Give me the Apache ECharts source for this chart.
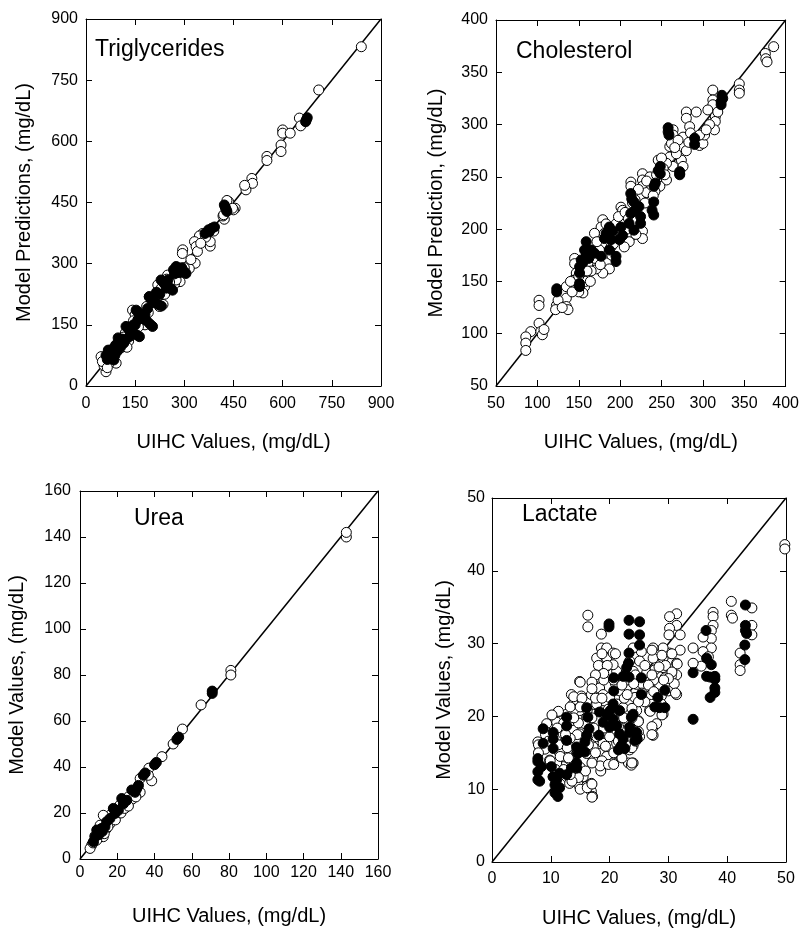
<!DOCTYPE html>
<html>
<head>
<meta charset="utf-8">
<script src="https://cdn.jsdelivr.net/npm/echarts@6/dist/echarts.min.js"></script>
<style>
html,body{margin:0;padding:0;background:#fff;}
#chart{width:802px;height:929px;}
</style>
</head>
<body>
<div id="chart"></div>
<script>
// ---------------- DATA ----------------
const panelTitles = ['Triglycerides', 'Cholesterol', 'Urea', 'Lactate'];
const xAxisNames = ['UIHC Values, (mg/dL)', 'UIHC Values, (mg/dL)', 'UIHC Values, (mg/dL)', 'UIHC Values, (mg/dL)'];
const yAxisNames = ['Model Predictions, (mg/dL)', 'Model Prediction, (mg/dL)', 'Model Values, (mg/dL)', 'Model Values, (mg/dL)'];
const axisMin = [0, 50, 0, 0];
const axisMax = [900, 400, 160, 50];
const axisStep = [150, 50, 20, 10];

const trigOpen = [[840,832],[710,726],[651,657],[655,638],[600,628],[600,620],[623,620],[595,591],[595,575],[552,563],[552,553],[506,509],[508,497],[488,481],[484,492],[435,452],[455,436],[450,432],[422,409],[418,417],[447,436],[379,343],[379,354],[356,374],[346,368],[331,354],[336,342],[322,301],[316,293],[333,301],[295,334],[294,325],[287,256],[310,293],[315,288],[249,272],[246,262],[219,248],[224,195],[235,200],[193,219],[200,212],[142,186],[150,175],[170,160],[180,150],[135,140],[120,130],[110,95],[100,90],[85,80],[75,60],[46,72],[61,35],[92,56],[70,55],[55,50],[130,110],[160,145],[205,205],[260,240],[270,250],[300,290],[340,330],[365,365],[390,380],[420,420],[430,455],[275,260],[115,120],[145,160],[190,180],[240,225],[255,255],[170,175],[50,60],[65,45],[80,70],[125,95],[185,195],[215,215],[230,240],[320,310],[350,350]];
const trigFill = [[672,652],[675,658],[670,648],[422,444],[428,432],[425,438],[430,428],[376,378],[384,387],[392,390],[374,383],[363,374],[280,290],[290,283],[275,293],[300,280],[305,276],[285,278],[267,285],[229,260],[240,250],[250,245],[260,238],[264,235],[235,255],[193,219],[200,210],[210,205],[220,200],[230,196],[205,215],[153,186],[165,175],[175,165],[185,160],[195,152],[203,146],[160,180],[122,146],[135,135],[145,130],[155,125],[163,121],[130,140],[61,75],[70,80],[80,90],[90,100],[100,110],[110,115],[120,112],[132,121],[75,70],[85,64],[95,85],[105,95],[65,65],[115,105],[180,175],[170,168],[140,145],[150,150],[250,260],[215,230],[68,88],[78,78],[88,75],[98,118],[108,104],[145,150],[158,162],[188,190],[225,225],[245,240],[270,275],[292,290]];

const cholOpen = [[385.5,374.5],[375.5,368],[376,363],[377.5,360],[344,339],[344,333],[344,330],[312,333],[312,323.5],[312,319],[315,307.5],[315,303],[314,295],[306,314],[280,312],[280,306],[292,312],[284,298],[276,288],[264,295],[264,290],[288,285],[296,280],[300,282],[302,290],[308,300],[260,279],[260,269],[264,260],[274,266],[276,260],[272,253],[256,263],[246,266],[256,247],[248,241],[252,258],[268,272],[280,275],[285,292],[227,253],[227,247],[227,241],[213,245],[213,241],[201,221],[203,218],[217,212],[227,198],[227,191],[213,193],[211,188],[205,183],[179,209],[177,202],[169,196],[181,196],[189,183],[185,177],[187,162],[179,158],[171,162],[167,170],[161,167],[145,172],[145,167],[147,158],[143,151],[151,145],[157,145],[155,139],[135,145],[135,134],[135,126],[137,123],[123,127],[125,132],[122,123],[102,132],[102,127],[102,110],[104,102],[92,102],[86,97],[86,91],[86,84],[106,99],[108,104],[195,205],[198,212],[206,216],[218,228],[232,235],[238,242],[242,236],[190,175],[175,180],[165,160],[158,150],[160,178],[172,188],[183,205],[215,225],[222,238],[236,250],[244,252],[250,268],[262,282],[270,285],[292,288],[296,290],[160,160],[150,140],[140,150],[130,125],[150,155],[185,195],[200,200],[210,210],[220,208],[230,225],[170,172],[176,166],[192,186],[197,196],[208,200],[219,195],[232,246],[240,232],[254,252],[266,278],[283,283],[304,295],[318,312],[164,150],[142,140]];
const cholFill = [[323,328],[322,322],[324,325],[322,319],[258,297],[258,293],[259,290],[290,287],[290,281],[272,255],[272,252],[248.5,260],[248.5,253],[246,256],[242.5,244],[241,241],[240.6,226],[238.6,218],[240.6,213.5],[212.8,234],[216.7,226],[222.7,221.5],[224.7,212],[224.7,205.5],[212.8,215],[210.8,205.5],[216.7,199],[214,229],[218,218],[201,202],[203,194],[199,190],[187,202],[183,196],[181,191],[189,190],[187,180],[195,174],[195,169],[191,198],[159,188],[157,180],[159,177],[153,170.5],[151,164],[151,158],[151,148],[151,145],[169,177],[177,174],[165,180],[155,168],[162,172],[123.4,143],[123.4,140]];

const ureaOpen = [[143,140],[143,142],[81,82],[81,80],[65,67],[55,56.5],[50,50],[44,44.5],[37,39.5],[38.5,34],[36.7,36.4],[32.3,35],[32.3,29],[27.8,27.7],[26,27],[23.3,24.8],[21.5,23.5],[20,20],[17.9,21.2],[16.1,19],[16.1,15.4],[12.5,19],[10.8,14.7],[12.5,9.7],[9,8.2],[6.3,6.1],[5.4,4.6],[8,10],[7,7],[11,12],[14,13],[13,11],[19,17],[22,20],[24,22],[28,26],[30,27],[26,23],[15,14],[10,11]];
const ureaFill = [[71,73],[71,72],[52,52],[53,53],[41,42],[40,41],[35,37.4],[34,36.4],[31.4,32],[30.5,30.6],[29.6,29],[27.8,30],[22.4,26.3],[25.1,25.5],[23.3,24],[17.9,22],[18.8,19.8],[16.1,17.6],[14.3,16.2],[13.4,14],[11.6,13.3],[9.9,11.1],[8.1,9.7],[7.2,7.5],[9,12.6],[20.6,21.2],[19,20.5],[12,12],[10,10.5]];

const lactOpen = [[49.8,43.6],[49.8,43.0],[40.7,35.8],[40.7,33.9],[40.9,33.5],[44.2,34.9],[44.2,32.5],[44.2,31.2],[42.2,28.7],[42.2,27.1],[42.2,26.3],[37.6,34.3],[37.6,33.7],[37.6,32.5],[37.3,31.8],[37.3,30.7],[37.3,29.4],[35.9,30.9],[35.9,28.9],[35.6,26.9],[34.2,29.4],[34.2,27.3],[36.8,28.2],[31.4,34.1],[30.2,33.7],[31.4,32.5],[30.2,32.1],[30.1,31.2],[32,31.2],[32,29.1],[31.4,27.3],[31.4,25.7],[31.4,23.0],[30.2,28.7],[30.5,25.5],[29.1,29.4],[29.1,28],[29.1,26.7],[29.4,25.3],[28.5,24.4],[28.8,22.8],[28.8,21.7],[29.1,20.3],[27.4,29.4],[27.4,28],[27.7,26.4],[26.8,24.8],[27.1,23.0],[26.8,20.8],[27.4,18.5],[27.4,17.4],[26.3,26],[25.4,28.9],[25.1,27.6],[24,29.4],[23.4,27.6],[24,26.2],[24.6,24.4],[24.3,22.6],[24.6,20.8],[24.9,19.4],[24.6,18.1],[25.1,17.2],[24,16],[24,13.6],[23.4,15.4],[16.3,33.9],[16.3,32.3],[18.6,31.3],[18.6,29.4],[18.3,28],[19.5,29.4],[19.5,28],[20.6,28.7],[21.2,26.2],[19.5,26.9],[18.6,26],[17.8,28],[20.6,27.1],[14.9,24.8],[13.5,23],[13.8,21.7],[15.2,22.8],[16.1,22.1],[16.9,23],[17.2,24.4],[18.3,23.9],[18.9,23],[20,22.6],[21.7,23.5],[21.2,21.7],[22.3,21.2],[22.9,19.6],[21.7,18.3],[20.6,19.9],[18.9,20.8],[17.8,21.7],[17.2,20.3],[16.1,19.9],[14.9,20.8],[13.8,19.9],[12.7,20.3],[11.2,20.6],[11,19.2],[9.3,19],[9.3,17.8],[7.8,16.5],[8.1,15.4],[9.8,14],[11,17.2],[12.1,17.6],[12.7,16.5],[13.8,18.1],[14.9,17.6],[16.1,16.7],[17.8,17.2],[18.9,16.3],[20,17.2],[21.2,16.3],[18.3,14.9],[19.5,14.5],[20.6,13.6],[22,14.5],[23.2,13.6],[23.7,13.3],[17.2,14],[16.1,14.9],[14.4,14.9],[13.2,14],[12.1,13.1],[12.7,11.7],[13.2,10.8],[14.9,10.4],[15.5,11.7],[16.1,10.4],[16.9,9.7],[17.1,9],[13.8,12.6],[11,13.6],[10.4,11.7],[16.9,10.8],[15.5,15.4],[17.2,15.8],[17.2,18.1],[15.8,19],[18,19.4],[19.8,21],[22.5,22.5],[21,24.5],[23,25],[26,22],[25.5,24.5],[28,19],[19,25],[14,21],[12,18.5],[10,17],[9,15.5],[11.5,15],[13,16],[15,13],[18.5,12.5],[21.5,15],[22.5,18],[26,27],[27.5,25],[30,23.5],[31,24.5],[29.5,27]];
const lactOpenDense = [[18.7,28.6],[21,28.6],[18.1,27],[19.6,27],[19,25.9],[17.6,25.7],[20.7,25],[24.4,25.7],[24.1,24.5],[26.6,24.3],[27.2,25.7],[28.4,26.8],[27.2,29.1],[28.9,28.4],[30.6,28.6],[31.5,27.2],[30.6,26.1],[30,25.2],[31.2,23.2],[29.2,25],[27.5,23.4],[26.9,20.7],[27.2,18.6],[27.2,17.5],[28.9,20.2],[25.5,23.2],[24.9,22],[23.8,21.1],[23,23],[22.1,24.3],[17,24.7],[15,24.7],[13.9,22.7],[15.3,22.5],[17,23.8],[17.6,22.5],[18.7,22.5],[13.3,21.3],[15,21.3],[16.2,20.9],[17,19.8],[14.7,19.1],[13.9,19.8],[12.2,19.1],[11.3,20.7],[10.2,20.2],[11.1,18.4],[9.1,17.5],[7.9,16.1],[7.9,15],[9.6,16.6],[11.3,16.1],[12.8,15.7],[11.6,14.5],[9.9,13.9],[10.8,12.7],[13,14.3],[14.5,15],[16.4,16.1],[17.6,15],[18.7,13.9],[18.4,13.2],[19.8,13.4],[20.7,13.4],[22.1,14.3],[23.8,13.6],[23.8,15.7],[22.7,16.1],[24.4,16.6],[21.5,16.6],[20.7,15],[19.3,15.9],[17,13.6],[15.9,12.5],[14.7,11.6],[13.6,11.1],[15,10],[16.2,10.2],[17,10.7],[17,8.9],[13.3,12],[12.2,12.7],[21.5,18.6],[23.8,18.2],[24.9,19.3],[24.9,17.9],[23.8,19.8],[22.4,19.8],[20.4,18.8],[20.4,20.2],[19,18.4],[17.3,18.4],[16.4,17.5],[14.5,17.5],[13.3,17],[12.5,17.5]];
const lactFill = [[43.1,35.3],[43.1,32.5],[43.1,31.8],[43,29.8],[43,27.8],[43.3,31.4],[36.4,31.8],[36.5,28],[37.3,27.1],[36.5,25.5],[37.1,25.4],[37.9,25.5],[37.9,25.1],[37.9,23.9],[37.9,23.3],[37.1,22.6],[34.2,26],[34.2,19.6],[29.4,23.6],[29.4,21.2],[28.5,21.2],[28.2,22.6],[27.7,21.3],[25.1,33],[25.1,31.2],[25.1,29.8],[25.4,25.3],[25.4,23],[23.3,33.2],[23.3,31.3],[23.3,28.7],[23.2,27.3],[22.9,26.7],[22.3,25.5],[23.3,25.4],[19.9,32.7],[19.9,32.3],[20.7,25.3],[20.7,23.5],[20.6,21.7],[20.1,20.8],[20.6,19.6],[19.5,20.3],[18.3,20.6],[18.9,19.2],[20,18.5],[21.2,18.7],[21.7,17.6],[22.3,16.9],[23.4,17.8],[24,20.3],[23.7,19.9],[23.4,18.5],[24.6,17.8],[24.7,16.9],[24.3,16.7],[22,16],[22.6,15.6],[21.5,15.4],[21.7,20.8],[18.2,17.4],[16.1,21.2],[16.3,19.9],[16.5,18.3],[16.1,17.4],[15.8,16.5],[15.8,15.1],[15.2,15.4],[14.6,14.9],[14.4,15.8],[14.4,13.6],[14.4,12.9],[13.5,12.9],[12.7,12],[11.5,12.2],[11,11.3],[10.7,10.6],[11.5,10.2],[10.7,9.5],[11.2,9],[12.7,19.9],[12.7,18.7],[12.7,16.7],[10.4,17.8],[10.4,16.9],[10.4,15.6],[8.7,18.3],[8.7,16.3],[7.8,14.2],[7.8,13.8],[7.8,12.4],[7.8,11.3],[8.1,11.1],[8.4,13.1],[10.1,13.1],[10.4,11.7]];

const openSets = [trigOpen, cholOpen, ureaOpen, lactOpen.concat(lactOpenDense)];
const fillSets = [trigFill, cholFill, ureaFill, lactFill];

// ---------------- LAYOUT / STYLE ----------------
const FONT = '"Liberation Sans", Arial, Helvetica, sans-serif';
const layout = [
  {left: 86,  top: 19,  width: 295, height: 367, xGap: 46, yGap: 52, xMargin: 10, yMargin: 8,  tLeft: 95,  tTop: 38},
  {left: 496, top: 20,  width: 294, height: 366, xGap: 46, yGap: 50, xMargin: 10, yMargin: 8,  tLeft: 516, tTop: 40},
  {left: 80,  top: 491, width: 298, height: 368, xGap: 47, yGap: 53, xMargin: 6,  yMargin: 9,  tLeft: 134, tTop: 507},
  {left: 492, top: 498, width: 294, height: 367, xGap: 46, yGap: 38, xMargin: 9,  yMargin: 7,  tLeft: 522, tTop: 503}
];

const grids = [], xAxes = [], yAxes = [], series = [], titles = [];
const lineCol = '#000';

layout.forEach((L, i) => {
  grids.push({left: L.left, top: L.top, width: L.width, height: L.height, containLabel: false});
  titles.push({text: panelTitles[i], left: L.tLeft, top: L.tTop, padding: 0,
    textStyle: {fontFamily: FONT, fontSize: 23, fontWeight: 'normal', color: '#000'}});
  const common = {
    type: 'value', gridIndex: i, min: axisMin[i], max: axisMax[i], interval: axisStep[i],
    axisLine: {show: true, onZero: false, lineStyle: {color: lineCol, width: 1}},
    axisTick: {show: true, inside: true, length: 6, lineStyle: {color: lineCol, width: 1}},
    splitLine: {show: false}
  };
  xAxes.push(Object.assign({}, common, {
    position: 'bottom', name: xAxisNames[i], nameLocation: 'middle', nameGap: L.xGap,
    nameTextStyle: {fontFamily: FONT, fontSize: 20, color: '#000'},
    axisLabel: {show: true, margin: L.xMargin, fontFamily: FONT, fontSize: 16, color: '#000'}
  }));
  xAxes.push(Object.assign({}, common, {position: 'top', axisLabel: {show: false}}));
  yAxes.push(Object.assign({}, common, {
    position: 'left', name: yAxisNames[i], nameLocation: 'middle', nameGap: L.yGap, nameRotate: 90,
    nameTextStyle: {fontFamily: FONT, fontSize: 20, color: '#000'},
    axisLabel: {show: true, margin: L.yMargin, fontFamily: FONT, fontSize: 16, color: '#000'}
  }));
  yAxes.push(Object.assign({}, common, {position: 'right', axisLabel: {show: false}}));

  series.push({
    type: 'scatter', xAxisIndex: 2 * i, yAxisIndex: 2 * i, data: openSets[i], clip: false,
    symbol: 'circle', symbolSize: 10,
    itemStyle: {color: '#fff', borderColor: '#000', borderWidth: 1, opacity: 1}, z: 3
  });
  series.push({
    type: 'scatter', xAxisIndex: 2 * i, yAxisIndex: 2 * i, data: fillSets[i], clip: false,
    symbol: 'circle', symbolSize: 10,
    itemStyle: {color: '#000', borderColor: '#000', borderWidth: 1, opacity: 1}, z: 4
  });
  series.push({
    type: 'line', xAxisIndex: 2 * i, yAxisIndex: 2 * i,
    data: [[axisMin[i], axisMin[i]], [axisMax[i], axisMax[i]]],
    symbol: 'none', lineStyle: {color: '#000', width: 1.5}, z: 2, silent: true
  });
});

const chart = echarts.init(document.getElementById('chart'), null, {renderer: 'canvas'});
chart.setOption({
  animation: false,
  backgroundColor: '#fff',
  title: titles,
  grid: grids,
  xAxis: xAxes,
  yAxis: yAxes,
  series: series
});
</script>
</body>
</html>
